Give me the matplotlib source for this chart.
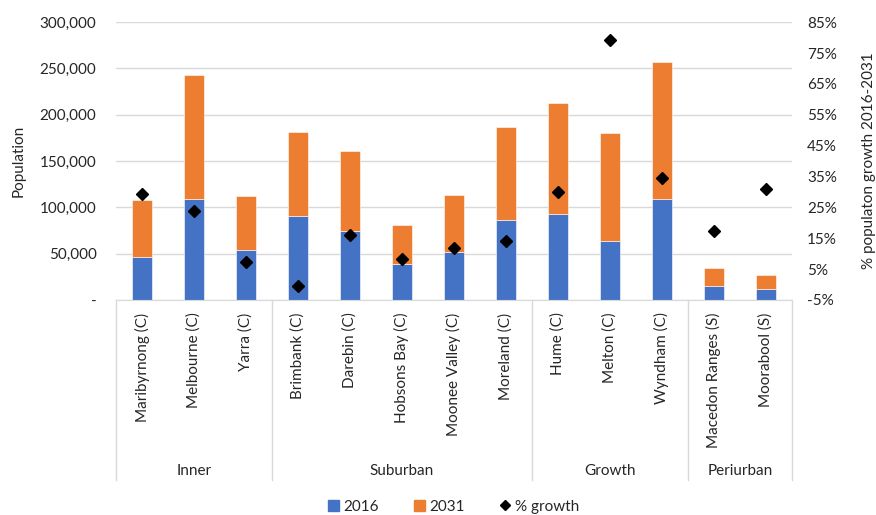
import matplotlib
matplotlib.use("Agg")
from matplotlib import pyplot as plt
from matplotlib.ticker import FuncFormatter
from matplotlib.lines import Line2D
from matplotlib.patches import Patch

plt.rcParams['font.family'] = ['Lato', 'DejaVu Sans']

councils = ["Maribyrnong (C)", "Melbourne (C)", "Yarra (C)",
            "Brimbank (C)", "Darebin (C)", "Hobsons Bay (C)", "Moonee Valley (C)", "Moreland (C)",
            "Hume (C)", "Melton (C)", "Wyndham (C)",
            "Macedon Ranges (S)", "Moorabool (S)"]
groups = ["Inner", "Suburban", "Growth", "Periurban"]
group_sizes = [3, 5, 3, 2]
pop_2016 = [46400, 108700, 54000, 91000, 74500, 39200, 52100, 86700,
            92500, 64100, 108700, 15400, 12200]
pop_2031 = [61200, 133800, 57900, 90600, 85900, 41400, 61200, 99600,
            120100, 115800, 148400, 19500, 15200]
growth = [29.3, 23.8, 7.4, -0.5, 16.0, 8.4, 12.0, 14.2, 30.0, 79.2, 34.6, 17.2, 31.0]

blue = "#4472C4"
orange = "#ED7D31"
grid = "#D9D9D9"
text = "#262626"

fig = plt.figure(figsize=(8.76, 5.15), dpi=100)
ax = fig.add_axes([0.1324, 0.4175, 0.7716, 0.5395])
x = list(range(len(councils)))

ax.bar(x, pop_2016, width=0.39, color=blue, edgecolor="white", linewidth=0.4, zorder=2)
ax.bar(x, pop_2031, width=0.39, bottom=pop_2016, color=orange, edgecolor="white",
       linewidth=0.4, zorder=2)
ax.set_xlim(-0.5, len(councils) - 0.5)
ax.set_ylim(0, 300000)
ax.set_yticks(range(0, 300001, 50000))
ax.yaxis.set_major_formatter(FuncFormatter(lambda v, p: "-" if v == 0 else f"{int(v):,}"))
ax.grid(axis="y", color=grid, linewidth=1, zorder=0)
for s in ["top", "left", "right"]:
    ax.spines[s].set_visible(False)
ax.spines["bottom"].set_color(grid)
ax.tick_params(axis="y", length=0, pad=14, labelsize=11, labelcolor=text)
ax.set_xticks(x)
ax.set_xticklabels(councils, rotation=90, fontsize=11, color=text)
ax.tick_params(axis="x", length=0, pad=9)
ax.set_ylabel("Population", fontsize=11, color=text, labelpad=10)

# group separators and labels
trans = ax.get_xaxis_transform()
edge = -0.5
bounds = [edge]
for g, n in zip(groups, group_sizes):
    ax.text(edge + n / 2, -0.615, g, transform=trans, ha="center", va="center",
            fontsize=11, color=text)
    edge += n
    bounds.append(edge)
for b in bounds:
    ax.plot([b, b], [0, -0.647], transform=trans, color=grid, linewidth=1, clip_on=False)

ax2 = ax.twinx()
ax2.plot(x, growth, linestyle="none", marker="D", markersize=6.5, color="black", zorder=3)
ax2.set_ylim(-5, 85)
ax2.set_yticks(range(-5, 86, 10))
ax2.yaxis.set_major_formatter(FuncFormatter(lambda v, p: f"{int(v)}%"))
for s in ["top", "left", "right", "bottom"]:
    ax2.spines[s].set_visible(False)
ax2.tick_params(axis="y", length=0, pad=11, labelsize=11, labelcolor=text)
ax2.set_ylabel("% populaton growth 2016-2031", fontsize=11, color=text, labelpad=18)

handles = [Patch(color=blue, label="2016"), Patch(color=orange, label="2031"),
           Line2D([], [], linestyle="none", marker="D", markersize=5, color="black",
                  label="% growth")]
fig.legend(handles=handles, loc="center", bbox_to_anchor=(0.518, 0.016), ncol=3,
           frameon=False, fontsize=11, handlelength=0.7, handleheight=0.7,
           handletextpad=0.3, columnspacing=2.3, labelcolor=text)

fig.savefig("out.png", dpi=100)
